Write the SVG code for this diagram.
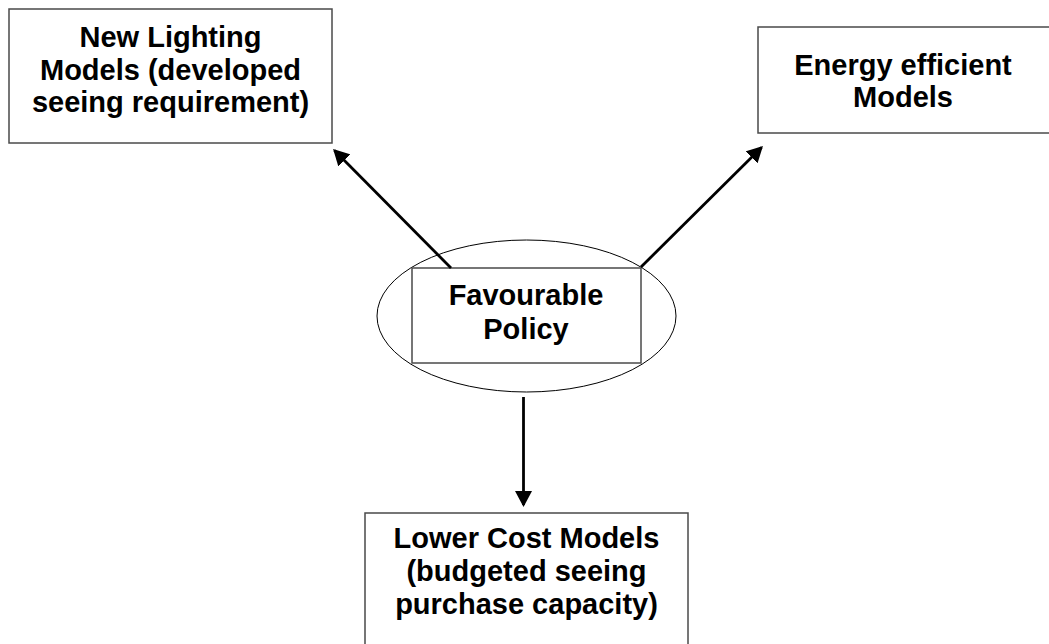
<svg xmlns="http://www.w3.org/2000/svg" width="1049" height="644" viewBox="0 0 1049 644">
  <style>
    .box { fill: #ffffff; stroke: #4a4a4a; stroke-width: 1.5; }
    .oval { fill: #ffffff; stroke: #000000; stroke-width: 1; }
    .lbl { font-family: "Liberation Sans", Arial, Helvetica, sans-serif; font-weight: bold; font-size: 29px; fill: #000000; text-anchor: middle; }
    .conn { stroke: #000000; stroke-width: 2.8; fill: none; }
  </style>
  <defs>
    <marker id="arrow" markerUnits="userSpaceOnUse" markerWidth="16" markerHeight="17" refX="14" refY="8.5" orient="auto" viewBox="0 0 16 17">
      <path d="M0,0 L16,8.5 L0,17 z" fill="#000000"/>
    </marker>
  </defs>
  <rect width="1049" height="644" fill="#ffffff"/>

  <g id="node-new-lighting">
    <rect class="box" x="9" y="9" width="323" height="134"/>
    <text class="lbl" x="170.5" y="47">New Lighting</text>
    <text class="lbl" x="170.5" y="80">Models (developed</text>
    <text class="lbl" x="170.5" y="112">seeing requirement)</text>
  </g>

  <g id="node-energy-efficient">
    <rect class="box" x="758" y="27" width="310" height="106"/>
    <text class="lbl" x="903" y="75">Energy efficient</text>
    <text class="lbl" x="903" y="107">Models</text>
  </g>

  <g id="node-favourable-policy">
    <ellipse class="oval" cx="526.5" cy="316" rx="149.5" ry="76"/>
    <rect class="box" x="412" y="268" width="229" height="95"/>
    <text class="lbl" x="526" y="305">Favourable</text>
    <text class="lbl" x="526" y="339">Policy</text>
  </g>

  <g id="node-lower-cost">
    <rect class="box" x="365" y="513" width="323" height="150"/>
    <text class="lbl" x="526.5" y="548">Lower Cost Models</text>
    <text class="lbl" x="526.5" y="581">(budgeted seeing</text>
    <text class="lbl" x="526.5" y="614">purchase capacity)</text>
  </g>

  <g id="connectors">
    <path class="conn" d="M451,268 L334.5,150.5" marker-end="url(#arrow)"/>
    <path class="conn" d="M641,267 L761.5,147.5" marker-end="url(#arrow)"/>
    <path class="conn" d="M523.5,397 L523.5,505" marker-end="url(#arrow)"/>
  </g>
</svg>
